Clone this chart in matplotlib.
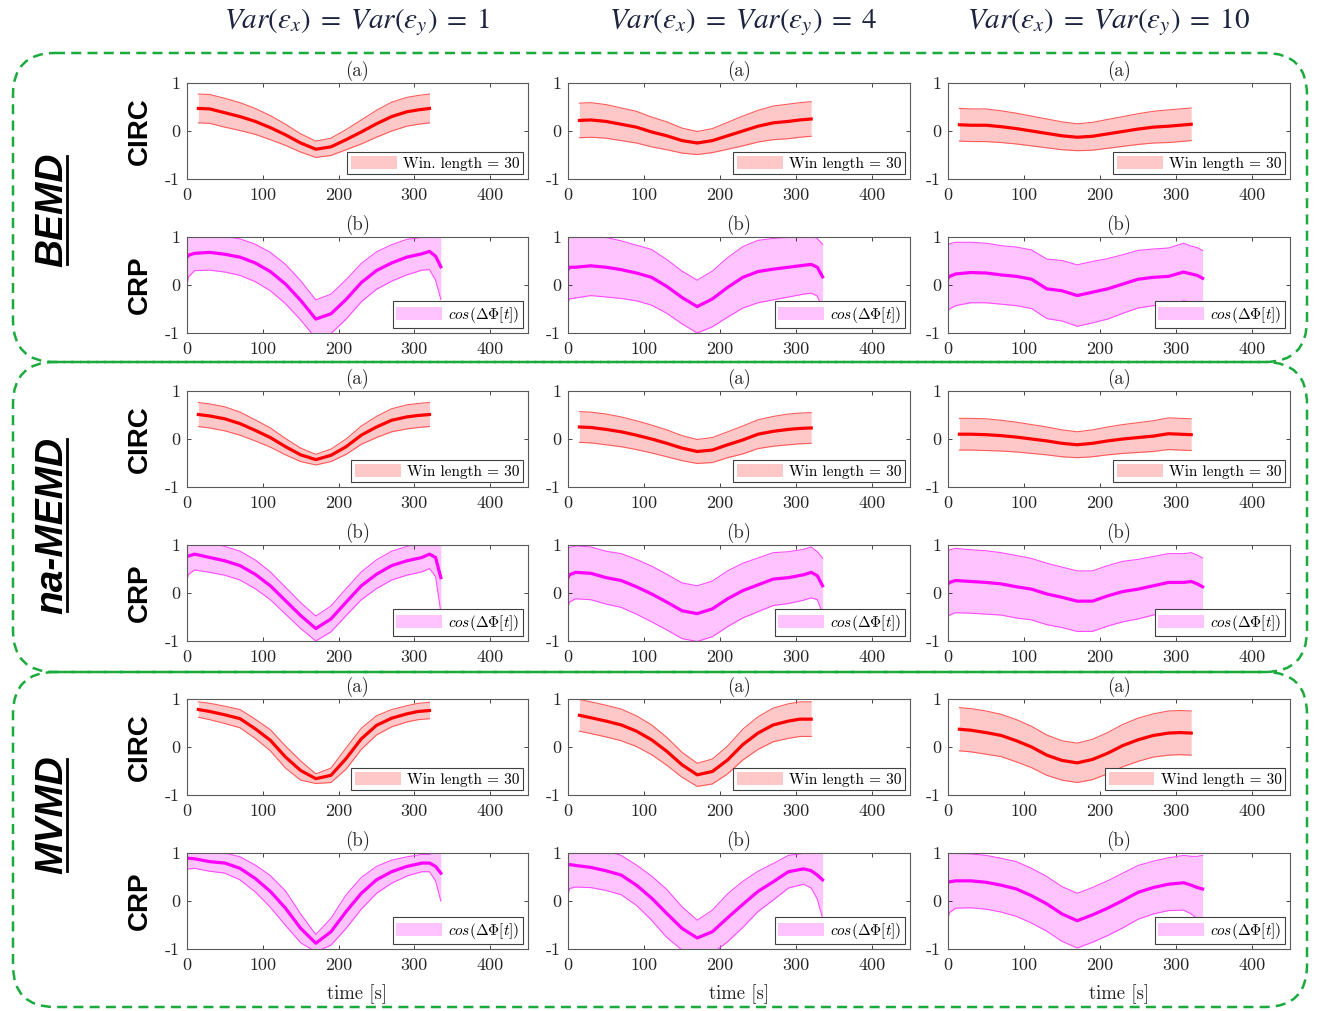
import matplotlib
matplotlib.use("Agg")
import matplotlib.pyplot as plt
from matplotlib.patches import FancyBboxPatch
from matplotlib.lines import Line2D
import numpy as np

plt.rcParams["axes.formatter.use_mathtext"] = True
plt.rcParams["mathtext.fontset"] = "cm"

# ---------------- data ----------------
col_titles = [r"$Var(\varepsilon_x)\;=\;Var\left(\varepsilon_y\right)\;=\;1$",
              r"$Var(\varepsilon_x)\;=\;Var\left(\varepsilon_y\right)\;=\;4$",
              r"$Var(\varepsilon_x)\;=\;Var\left(\varepsilon_y\right)\;=\;10$"]
methods = ["BEMD", "na-MEMD", "MVMD"]
measures = ["CIRC", "CRP"]
x_ticks = [0, 100, 200, 300, 400]
y_ticks = [-1, 0, 1]
y_ticklabels = ["-1", "0", "1"]

t_circ = [15, 30, 50, 70, 90, 110, 130, 150, 170, 190, 210, 230, 250, 270, 290, 305, 320]
t_crp = [0, 2, 10, 30, 50, 70, 90, 110, 130, 150, 170, 190, 210, 230, 250, 270, 290, 310, 320, 328, 335]

circ_legends = [["Win. length = 30", "Win length = 30", "Win length = 30"],
                ["Win length = 30", "Win length = 30", "Win length = 30"],
                ["Win length = 30", "Win length = 30", "Wind length = 30"]]
crp_legend = r"$cos(\Delta\Phi[t])$"

# BEMD, CIRC
bemd_circ1_mean = [0.47, 0.46, 0.38, 0.30, 0.20, 0.07, -0.08, -0.25, -0.38, -0.33, -0.18, -0.02, 0.15, 0.30, 0.40, 0.44, 0.47]
bemd_circ1_sd = [0.30, 0.30, 0.30, 0.29, 0.27, 0.25, 0.22, 0.19, 0.17, 0.18, 0.21, 0.25, 0.28, 0.30, 0.30, 0.30, 0.30]
bemd_circ2_mean = [0.22, 0.23, 0.20, 0.14, 0.08, -0.02, -0.10, -0.20, -0.25, -0.20, -0.10, 0.00, 0.10, 0.17, 0.20, 0.23, 0.25]
bemd_circ2_sd = [0.36, 0.36, 0.35, 0.34, 0.33, 0.31, 0.29, 0.26, 0.24, 0.25, 0.28, 0.31, 0.33, 0.35, 0.36, 0.36, 0.36]
bemd_circ3_mean = [0.13, 0.12, 0.12, 0.09, 0.05, 0.00, -0.05, -0.10, -0.13, -0.11, -0.06, -0.01, 0.04, 0.08, 0.10, 0.12, 0.14]
bemd_circ3_sd = [0.34, 0.34, 0.34, 0.33, 0.32, 0.31, 0.30, 0.29, 0.28, 0.29, 0.30, 0.31, 0.32, 0.33, 0.34, 0.34, 0.34]
# BEMD, CRP
bemd_crp1_mean = [0.58, 0.62, 0.66, 0.68, 0.64, 0.58, 0.46, 0.28, 0.02, -0.32, -0.71, -0.60, -0.30, 0.05, 0.30, 0.46, 0.58, 0.65, 0.70, 0.60, 0.38]
bemd_crp1_sd = [0.58, 0.45, 0.36, 0.37, 0.37, 0.38, 0.39, 0.40, 0.41, 0.41, 0.40, 0.41, 0.41, 0.40, 0.39, 0.38, 0.37, 0.34, 0.38, 0.50, 0.68]
bemd_crp2_mean = [0.32, 0.37, 0.37, 0.40, 0.37, 0.32, 0.25, 0.16, -0.03, -0.26, -0.45, -0.29, -0.05, 0.16, 0.28, 0.33, 0.37, 0.41, 0.43, 0.37, 0.17]
bemd_crp2_sd = [0.68, 0.66, 0.64, 0.62, 0.62, 0.60, 0.58, 0.58, 0.56, 0.55, 0.55, 0.58, 0.62, 0.64, 0.65, 0.64, 0.62, 0.60, 0.60, 0.60, 0.68]
bemd_crp3_mean = [0.14, 0.18, 0.23, 0.26, 0.25, 0.21, 0.18, 0.12, -0.08, -0.12, -0.22, -0.15, -0.08, 0.02, 0.12, 0.16, 0.18, 0.27, 0.23, 0.20, 0.14]
bemd_crp3_sd = [0.68, 0.68, 0.66, 0.63, 0.62, 0.61, 0.61, 0.61, 0.62, 0.63, 0.64, 0.64, 0.63, 0.61, 0.60, 0.59, 0.59, 0.60, 0.58, 0.58, 0.58]
# na-MEMD, CIRC
namemd_circ1_mean = [0.51, 0.48, 0.42, 0.32, 0.18, 0.03, -0.16, -0.33, -0.43, -0.34, -0.16, 0.08, 0.25, 0.39, 0.46, 0.49, 0.51]
namemd_circ1_sd = [0.25, 0.25, 0.25, 0.24, 0.22, 0.20, 0.17, 0.14, 0.11, 0.13, 0.16, 0.19, 0.22, 0.24, 0.25, 0.25, 0.25]
namemd_circ2_mean = [0.25, 0.24, 0.20, 0.15, 0.08, 0.00, -0.09, -0.19, -0.26, -0.23, -0.12, -0.02, 0.10, 0.16, 0.20, 0.22, 0.23]
namemd_circ2_sd = [0.32, 0.32, 0.32, 0.31, 0.30, 0.29, 0.28, 0.26, 0.25, 0.26, 0.27, 0.29, 0.30, 0.31, 0.32, 0.32, 0.32]
namemd_circ3_mean = [0.10, 0.10, 0.09, 0.07, 0.04, 0.00, -0.04, -0.09, -0.12, -0.09, -0.04, 0.00, 0.03, 0.06, 0.11, 0.10, 0.09]
namemd_circ3_sd = [0.33, 0.33, 0.33, 0.32, 0.31, 0.30, 0.29, 0.28, 0.27, 0.28, 0.29, 0.30, 0.31, 0.32, 0.33, 0.33, 0.33]
# na-MEMD, CRP
namemd_crp1_mean = [0.77, 0.77, 0.81, 0.74, 0.67, 0.57, 0.39, 0.15, -0.16, -0.47, -0.74, -0.54, -0.19, 0.15, 0.39, 0.57, 0.67, 0.74, 0.81, 0.74, 0.32]
namemd_crp1_sd = [0.50, 0.38, 0.33, 0.31, 0.30, 0.30, 0.30, 0.29, 0.28, 0.27, 0.26, 0.27, 0.28, 0.29, 0.30, 0.30, 0.30, 0.30, 0.30, 0.40, 0.72]
namemd_crp2_mean = [0.32, 0.38, 0.43, 0.41, 0.32, 0.26, 0.13, -0.02, -0.19, -0.37, -0.43, -0.33, -0.12, 0.05, 0.17, 0.29, 0.32, 0.38, 0.43, 0.36, 0.15]
namemd_crp2_sd = [0.60, 0.57, 0.55, 0.55, 0.55, 0.56, 0.57, 0.58, 0.58, 0.58, 0.58, 0.58, 0.58, 0.57, 0.56, 0.55, 0.54, 0.53, 0.53, 0.50, 0.58]
namemd_crp3_mean = [0.19, 0.22, 0.26, 0.24, 0.22, 0.19, 0.13, 0.08, -0.02, -0.09, -0.17, -0.17, -0.06, 0.03, 0.08, 0.15, 0.22, 0.22, 0.24, 0.19, 0.13]
namemd_crp3_sd = [0.68, 0.68, 0.67, 0.66, 0.66, 0.65, 0.65, 0.64, 0.64, 0.63, 0.63, 0.63, 0.63, 0.63, 0.62, 0.61, 0.60, 0.60, 0.60, 0.60, 0.60]
# MVMD, CIRC
mvmd_circ1_mean = [0.78, 0.74, 0.67, 0.59, 0.38, 0.14, -0.21, -0.49, -0.66, -0.59, -0.24, 0.17, 0.45, 0.60, 0.69, 0.74, 0.76]
mvmd_circ1_sd = [0.16, 0.17, 0.18, 0.19, 0.20, 0.22, 0.23, 0.20, 0.10, 0.15, 0.22, 0.22, 0.20, 0.18, 0.17, 0.17, 0.17]
mvmd_circ2_mean = [0.66, 0.61, 0.54, 0.46, 0.33, 0.15, -0.09, -0.37, -0.58, -0.51, -0.27, 0.05, 0.29, 0.46, 0.54, 0.58, 0.58]
mvmd_circ2_sd = [0.33, 0.33, 0.33, 0.33, 0.32, 0.31, 0.29, 0.26, 0.24, 0.26, 0.29, 0.32, 0.34, 0.35, 0.36, 0.36, 0.36]
mvmd_circ3_mean = [0.37, 0.35, 0.30, 0.24, 0.13, 0.00, -0.17, -0.28, -0.33, -0.26, -0.13, 0.03, 0.15, 0.24, 0.29, 0.30, 0.29]
mvmd_circ3_sd = [0.45, 0.45, 0.45, 0.44, 0.44, 0.43, 0.42, 0.41, 0.41, 0.42, 0.43, 0.44, 0.45, 0.45, 0.46, 0.46, 0.46]
# MVMD, CRP
mvmd_crp1_mean = [0.90, 0.89, 0.88, 0.82, 0.79, 0.68, 0.47, 0.20, -0.15, -0.57, -0.88, -0.64, -0.22, 0.16, 0.44, 0.61, 0.72, 0.79, 0.79, 0.72, 0.58]
mvmd_crp1_sd = [0.24, 0.22, 0.20, 0.20, 0.21, 0.24, 0.28, 0.33, 0.36, 0.30, 0.18, 0.28, 0.35, 0.33, 0.28, 0.24, 0.20, 0.18, 0.18, 0.30, 0.58]
mvmd_crp2_mean = [0.74, 0.76, 0.74, 0.70, 0.63, 0.54, 0.33, 0.06, -0.26, -0.57, -0.77, -0.64, -0.35, -0.07, 0.20, 0.40, 0.61, 0.67, 0.63, 0.54, 0.44]
mvmd_crp2_sd = [0.62, 0.50, 0.45, 0.42, 0.41, 0.41, 0.42, 0.46, 0.50, 0.45, 0.37, 0.45, 0.50, 0.48, 0.42, 0.38, 0.34, 0.32, 0.36, 0.50, 0.80]
mvmd_crp3_mean = [0.39, 0.40, 0.42, 0.42, 0.39, 0.33, 0.25, 0.11, -0.06, -0.27, -0.41, -0.29, -0.15, 0.01, 0.18, 0.28, 0.35, 0.38, 0.33, 0.28, 0.25]
mvmd_crp3_sd = [0.76, 0.64, 0.57, 0.56, 0.56, 0.56, 0.57, 0.57, 0.57, 0.57, 0.57, 0.57, 0.57, 0.57, 0.56, 0.55, 0.55, 0.57, 0.60, 0.65, 0.70]

panel_data = [
    [(bemd_circ1_mean, bemd_circ1_sd), (bemd_circ2_mean, bemd_circ2_sd), (bemd_circ3_mean, bemd_circ3_sd)],
    [(bemd_crp1_mean, bemd_crp1_sd), (bemd_crp2_mean, bemd_crp2_sd), (bemd_crp3_mean, bemd_crp3_sd)],
    [(namemd_circ1_mean, namemd_circ1_sd), (namemd_circ2_mean, namemd_circ2_sd), (namemd_circ3_mean, namemd_circ3_sd)],
    [(namemd_crp1_mean, namemd_crp1_sd), (namemd_crp2_mean, namemd_crp2_sd), (namemd_crp3_mean, namemd_crp3_sd)],
    [(mvmd_circ1_mean, mvmd_circ1_sd), (mvmd_circ2_mean, mvmd_circ2_sd), (mvmd_circ3_mean, mvmd_circ3_sd)],
    [(mvmd_crp1_mean, mvmd_crp1_sd), (mvmd_crp2_mean, mvmd_crp2_sd), (mvmd_crp3_mean, mvmd_crp3_sd)],
]

# ---------------- layout & style ----------------
W, H = 1319, 1011
fig = plt.figure(figsize=(W / 100, H / 100), dpi=100)

overlay = fig.add_axes([0, 0, 1, 1])
overlay.set_xlim(0, W)
overlay.set_ylim(H, 0)
overlay.axis("off")

green = "#1aab3c"
for (y0, y1) in [(53, 362), (362, 672), (672, 1007)]:
    overlay.add_patch(FancyBboxPatch((13, y0), 1294, y1 - y0,
                                     boxstyle="round,pad=0,rounding_size=42",
                                     fill=False, ec=green, lw=1.8,
                                     ls=(0, (4, 2.5))))

col_left = [187, 568, 948]
col_w = [341, 342, 342]
row_top = [83, 237, 391, 545, 699, 853]
ax_h = 96

red_line, red_fill, red_edge = "#ff0000", "#ffc8c8", "#ff5a5a"
mag_line, mag_fill, mag_edge = "#ff00ff", "#ffc4ff", "#ff4cff"
tick_col = "#262626"
serif = "cmr10"

for r in range(6):
    is_circ = (r % 2 == 0)
    t = np.array(t_circ if is_circ else t_crp)
    for c in range(3):
        ax = fig.add_axes([col_left[c] / W, 1 - (row_top[r] + ax_h) / H,
                           col_w[c] / W, ax_h / H])
        mean = np.array(panel_data[r][c][0])
        sd = np.array(panel_data[r][c][1])
        lo, hi = mean - sd, mean + sd
        if is_circ:
            lc, fc, ec = red_line, red_fill, red_edge
            lab = circ_legends[r // 2][c]
        else:
            lc, fc, ec = mag_line, mag_fill, mag_edge
            lab = crp_legend
        ax.fill_between(t, lo, hi, color=fc, lw=0, label=lab)
        ax.plot(t, lo, color=ec, lw=0.8)
        ax.plot(t, hi, color=ec, lw=0.8)
        ax.plot(t, mean, color=lc, lw=2.3, solid_joinstyle="round")
        ax.set_xlim(0, 450)
        ax.set_ylim(-1, 1)
        ax.set_xticks(x_ticks)
        ax.set_xticklabels([str(v) for v in x_ticks], fontfamily=serif)
        ax.set_yticks(y_ticks)
        ax.set_yticklabels(y_ticklabels, fontfamily=serif)
        ax.tick_params(direction="in", top=True, right=True, length=3,
                       width=0.6, colors=tick_col, labelsize=13, pad=6)
        ax.tick_params(axis="y", pad=5)
        for sp in ax.spines.values():
            sp.set_color("#5a5a5a")
            sp.set_linewidth(0.8)
        ax.set_title("(a)" if is_circ else "(b)", fontsize=13.5,
                     fontfamily=serif, color=tick_col, pad=5)
        leg = ax.legend(loc="lower right", frameon=True,
                        fancybox=False, framealpha=1, edgecolor="#404040",
                        handlelength=3.0, handleheight=0.9, borderpad=0.25,
                        borderaxespad=0.3, handletextpad=0.4,
                        prop={"family": serif, "size": 11})
        leg.get_frame().set_linewidth(0.8)
        if r == 5:
            ax.set_xlabel("time [s]", fontsize=13.5, fontfamily=serif,
                          color=tick_col, labelpad=8)

# row labels
for r in range(6):
    fig.text(140 / W, 1 - (row_top[r] + ax_h / 2) / H, measures[r % 2],
             rotation=90, ha="center", va="center", fontsize=20,
             fontweight="bold", family="Liberation Sans", color="black")

# column headers
for c, xc in enumerate([357, 743, 1109]):
    fig.text(xc / W, 1 - 22 / H, col_titles[c], ha="center", va="center",
             fontsize=21, color="#1c2440", math_fontfamily="stix")

# method labels (bold italic, underlined)
method_txts = []
for m, yc in zip(methods, [210, 525, 815]):
    txt = fig.text(52 / W, 1 - yc / H, m, rotation=90, ha="center",
                   va="center", fontsize=28, fontweight="bold",
                   fontstyle="italic", family="Liberation Sans", color="black")
    method_txts.append(txt)

fig.canvas.draw()
renderer = fig.canvas.get_renderer()
for txt in method_txts:
    bb = txt.get_window_extent(renderer)
    x_line = bb.x1 - 3
    overlay.add_line(Line2D([x_line, x_line], [H - bb.y0 - 3, H - bb.y1 + 3],
                            color="black", lw=2.0))

fig.savefig("out.png", dpi=100)
